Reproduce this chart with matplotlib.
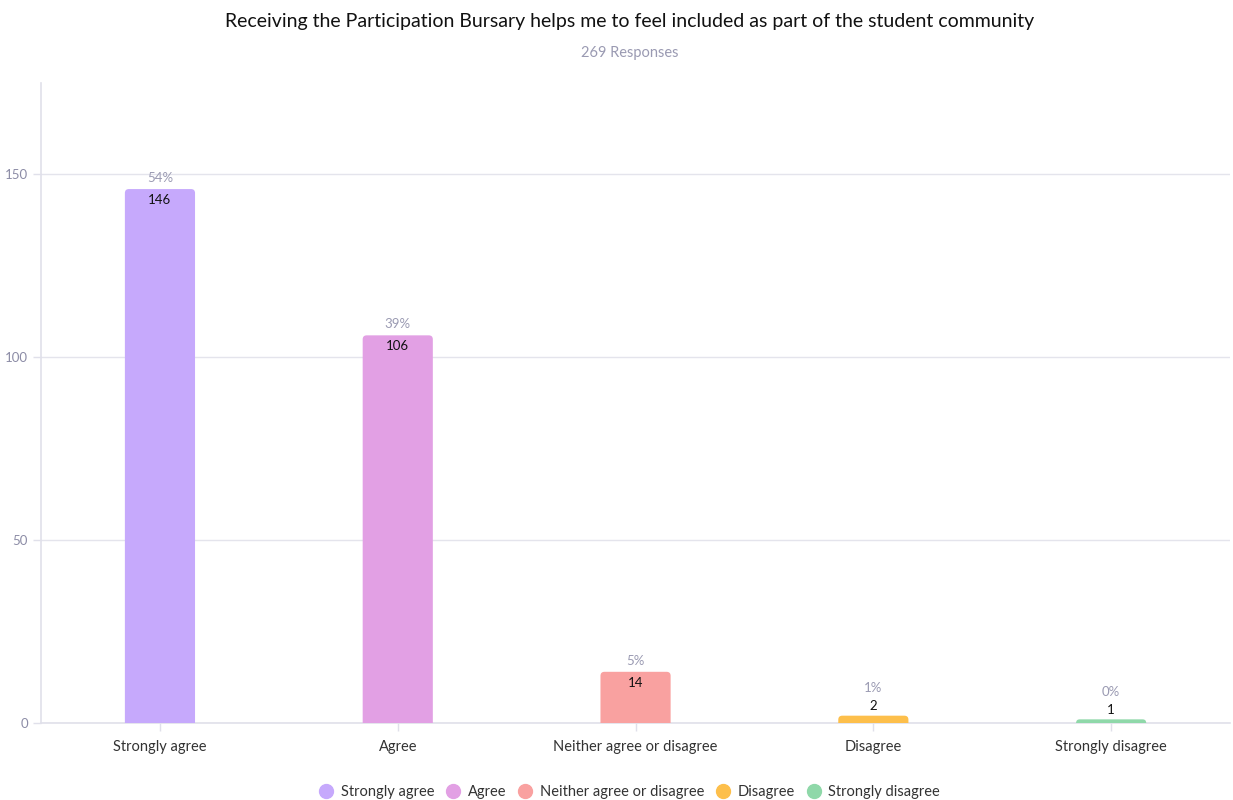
import numpy as np
import matplotlib
matplotlib.use("Agg")
import matplotlib.pyplot as plt
from matplotlib.lines import Line2D
from matplotlib.patches import FancyBboxPatch

# 调查结果数据
categories = ["Strongly agree", "Agree", "Neither agree or disagree", "Disagree", "Strongly disagree"]
counts = [146, 106, 14, 2, 1]
colors = ["#c6a9fc", "#e2a0e4", "#f9a1a0", "#fdbf4b", "#8fd8a9"]
total = 269
title = "Receiving the Participation Bursary helps me to feel included as part of the student community"
subtitle = "269 Responses"

plt.rcParams['font.family'] = ['Lato', 'DejaVu Sans']

fig = plt.figure(figsize=(12.33, 8), dpi=100)
ax = fig.add_axes([0.0333, 0.09625, 0.9643, 0.8])

x = np.arange(len(categories))
ax.set_xlim(-0.5, len(categories) - 0.5)
ax.set_ylim(0, 175)

# 圆角柱子: 向下延伸到0以下, 底部圆角被坐标区裁掉
w = 0.295
px_x = 1189 / 5.0      # 每个x单位的像素
px_y = 640 / 175.0     # 每个y单位的像素
asp = px_x / px_y
for xi, c, col in zip(x, counts, colors):
    rs = min(4.0 / px_x, c / asp)
    ax.add_patch(FancyBboxPatch((xi - w / 2, -c), w, 2 * c,
                                boxstyle="round,pad=0,rounding_size=%f" % rs,
                                mutation_aspect=asp, fc=col, ec='none', zorder=3))

ax.set_yticks([0, 50, 100, 150])
ax.set_xticks(x)
ax.set_xticklabels(categories, fontsize=10.5, color="#333333")
ax.tick_params(axis='y', colors="#e0e0ea", labelcolor="#8c8ca6", labelsize=9.5, length=6, width=1)
ax.tick_params(axis='x', colors="#e0e0ea", labelcolor="#333333", length=6, width=1, pad=6)
ax.grid(axis='y', color="#e4e4ec", linewidth=1, zorder=0)
for s in ['top', 'right']:
    ax.spines[s].set_visible(False)
for s in ['left', 'bottom']:
    ax.spines[s].set_color("#e0e0ea")
    ax.spines[s].set_linewidth(1.2)

# 标注数量和百分比
for xi, c in zip(x, counts):
    pct = "%d%%" % round(c * 100 / total)
    if c >= 10:
        ax.annotate(str(c), (xi, c), xytext=(0, -8), textcoords='offset points',
                    ha='center', va='center', fontsize=9.5, color="#111111", zorder=4)
        ax.annotate(pct, (xi, c), xytext=(0, 8), textcoords='offset points',
                    ha='center', va='center', fontsize=9.5, color="#9a9ab2", zorder=4)
    else:
        ax.annotate(str(c), (xi, c), xytext=(0, 7), textcoords='offset points',
                    ha='center', va='center', fontsize=9.5, color="#111111", zorder=4)
        ax.annotate(pct, (xi, c), xytext=(0, 20), textcoords='offset points',
                    ha='center', va='center', fontsize=9.5, color="#9a9ab2", zorder=4)

cx = 0.5105
fig.text(cx, 0.973, title, ha='center', va='center', fontsize=14, color="#111111")
fig.text(cx, 0.934, subtitle, ha='center', va='center', fontsize=10.5, color="#9a9ab2")

handles = [Line2D([], [], marker='o', linestyle='', markersize=10, markerfacecolor=c,
                  markeredgecolor=c) for c in colors]
fig.legend(handles, categories, loc='center', bbox_to_anchor=(cx, 0.01), ncol=5,
           frameon=False, fontsize=10.5, handlelength=1.0, handletextpad=0.5,
           columnspacing=0.8, labelcolor="#333333")

fig.savefig("out.png", dpi=100)
